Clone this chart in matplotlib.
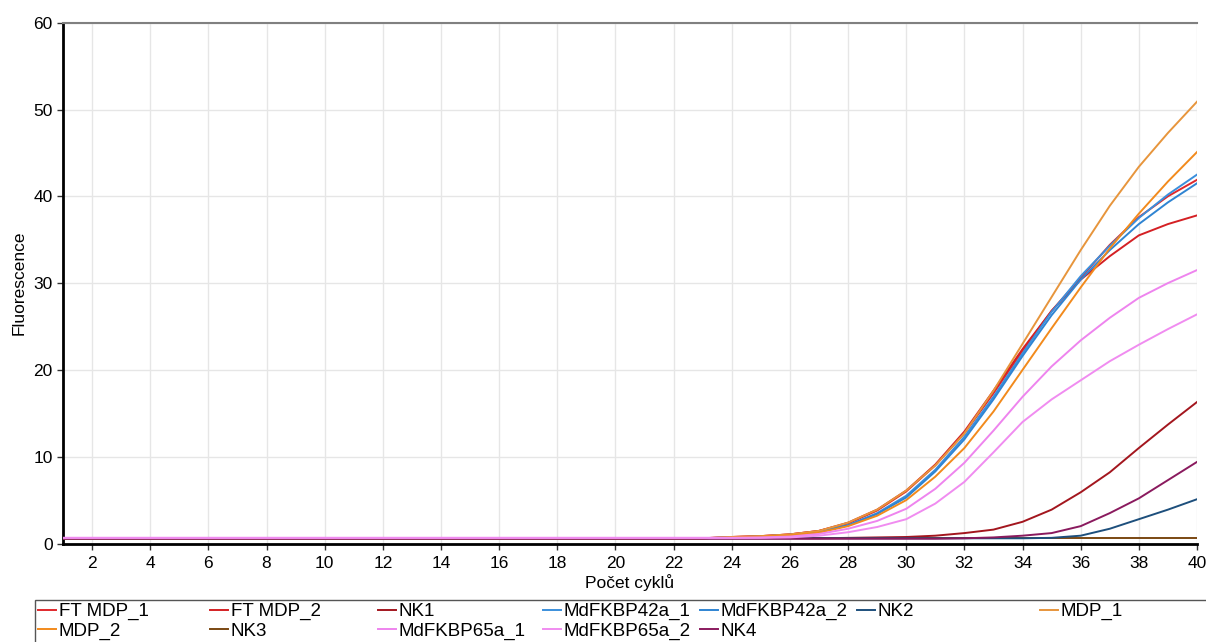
import matplotlib
matplotlib.use("Agg")
import matplotlib.pyplot as plt
from matplotlib.patches import Rectangle

cycles = list(range(1, 41))

# fluorescence per cycle (1..40)
ft_mdp_1 = [0.6, 0.6, 0.6, 0.6, 0.6, 0.6, 0.6, 0.6, 0.6, 0.6,
            0.6, 0.6, 0.6, 0.6, 0.6, 0.6, 0.6, 0.6, 0.6, 0.6,
            0.6, 0.6, 0.6, 0.75, 0.85, 1.05, 1.45, 2.3, 3.8, 6.0,
            9.0, 12.7, 17.3, 22.2, 26.8, 30.6, 34.4, 37.6, 40.0, 41.9]
ft_mdp_2 = [0.6, 0.6, 0.6, 0.6, 0.6, 0.6, 0.6, 0.6, 0.6, 0.6,
            0.6, 0.6, 0.6, 0.6, 0.6, 0.6, 0.6, 0.6, 0.6, 0.6,
            0.6, 0.6, 0.6, 0.75, 0.85, 1.05, 1.45, 2.4, 3.9, 6.1,
            9.1, 12.9, 17.6, 22.4, 26.8, 30.4, 33.1, 35.5, 36.8, 37.8]
nk1 = [0.6, 0.6, 0.6, 0.6, 0.6, 0.6, 0.6, 0.6, 0.6, 0.6,
       0.6, 0.6, 0.6, 0.6, 0.6, 0.6, 0.6, 0.6, 0.6, 0.6,
       0.6, 0.6, 0.6, 0.6, 0.6, 0.6, 0.6, 0.65, 0.7, 0.75,
       0.9, 1.2, 1.6, 2.5, 3.9, 5.9, 8.2, 11.0, 13.7, 16.3]
mdfkbp42a_1 = [0.6, 0.6, 0.6, 0.6, 0.6, 0.6, 0.6, 0.6, 0.6, 0.6,
               0.6, 0.6, 0.6, 0.6, 0.6, 0.6, 0.6, 0.6, 0.6, 0.6,
               0.6, 0.6, 0.6, 0.7, 0.8, 1.0, 1.35, 2.1, 3.5, 5.5,
               8.5, 12.3, 16.9, 21.9, 26.7, 30.8, 34.3, 37.5, 40.2, 42.5]
mdfkbp42a_2 = [0.6, 0.6, 0.6, 0.6, 0.6, 0.6, 0.6, 0.6, 0.6, 0.6,
               0.6, 0.6, 0.6, 0.6, 0.6, 0.6, 0.6, 0.6, 0.6, 0.6,
               0.6, 0.6, 0.6, 0.7, 0.8, 1.0, 1.35, 2.1, 3.4, 5.3,
               8.3, 12.0, 16.6, 21.6, 26.3, 30.4, 33.8, 36.8, 39.3, 41.5]
nk2 = [0.6, 0.6, 0.6, 0.6, 0.6, 0.6, 0.6, 0.6, 0.6, 0.6,
       0.6, 0.6, 0.6, 0.6, 0.6, 0.6, 0.6, 0.6, 0.6, 0.6,
       0.6, 0.6, 0.6, 0.6, 0.6, 0.6, 0.6, 0.6, 0.6, 0.6,
       0.6, 0.6, 0.6, 0.6, 0.65, 0.9, 1.7, 2.8, 3.9, 5.1]
mdp_1 = [0.6, 0.6, 0.6, 0.6, 0.6, 0.6, 0.6, 0.6, 0.6, 0.6,
         0.6, 0.6, 0.6, 0.6, 0.6, 0.6, 0.6, 0.6, 0.6, 0.6,
         0.6, 0.6, 0.6, 0.75, 0.85, 1.05, 1.45, 2.4, 3.9, 6.1,
         9.0, 12.7, 17.6, 23.0, 28.4, 33.8, 38.9, 43.4, 47.3, 50.9]
mdp_2 = [0.6, 0.6, 0.6, 0.6, 0.6, 0.6, 0.6, 0.6, 0.6, 0.6,
         0.6, 0.6, 0.6, 0.6, 0.6, 0.6, 0.6, 0.6, 0.6, 0.6,
         0.6, 0.6, 0.6, 0.7, 0.8, 0.95, 1.25, 2.0, 3.2, 5.0,
         7.7, 11.0, 15.2, 20.0, 24.8, 29.5, 34.0, 38.0, 41.7, 45.1]
nk3 = [0.6, 0.6, 0.6, 0.6, 0.6, 0.6, 0.6, 0.6, 0.6, 0.6,
       0.6, 0.6, 0.6, 0.6, 0.6, 0.6, 0.6, 0.6, 0.6, 0.6,
       0.6, 0.6, 0.6, 0.6, 0.6, 0.6, 0.6, 0.6, 0.6, 0.6,
       0.6, 0.6, 0.6, 0.6, 0.6, 0.6, 0.6, 0.6, 0.6, 0.6]
mdfkbp65a_1 = [0.65, 0.65, 0.65, 0.65, 0.65, 0.65, 0.65, 0.65, 0.65, 0.65,
               0.65, 0.65, 0.65, 0.65, 0.65, 0.65, 0.65, 0.65, 0.65, 0.65,
               0.65, 0.65, 0.65, 0.65, 0.7, 0.8, 1.1, 1.7, 2.6, 4.0,
               6.3, 9.3, 13.0, 16.9, 20.4, 23.4, 26.0, 28.3, 30.0, 31.5]
mdfkbp65a_2 = [0.65, 0.65, 0.65, 0.65, 0.65, 0.65, 0.65, 0.65, 0.65, 0.65,
               0.65, 0.65, 0.65, 0.65, 0.65, 0.65, 0.65, 0.65, 0.65, 0.65,
               0.65, 0.65, 0.65, 0.65, 0.65, 0.7, 0.9, 1.3, 1.9, 2.8,
               4.6, 7.1, 10.5, 14.0, 16.6, 18.8, 21.0, 22.9, 24.7, 26.4]
nk4 = [0.55, 0.55, 0.55, 0.55, 0.55, 0.55, 0.55, 0.55, 0.55, 0.55,
       0.55, 0.55, 0.55, 0.55, 0.55, 0.55, 0.55, 0.55, 0.55, 0.55,
       0.55, 0.55, 0.55, 0.55, 0.55, 0.55, 0.55, 0.55, 0.55, 0.55,
       0.55, 0.6, 0.7, 0.9, 1.2, 2.0, 3.5, 5.2, 7.3, 9.4]

series = [
    ("FT MDP_1", ft_mdp_1, "#e0282c", 3),
    ("FT MDP_2", ft_mdp_2, "#d42024", 3),
    ("NK1", nk1, "#a3161e", 3),
    ("MdFKBP42a_1", mdfkbp42a_1, "#3b8fdc", 3),
    ("MdFKBP42a_2", mdfkbp42a_2, "#2f84d2", 3),
    ("NK2", nk2, "#1d4f7c", 3),
    ("MDP_1", mdp_1, "#e7953c", 3),
    ("MDP_2", mdp_2, "#f28a1c", 3),
    ("NK3", nk3, "#7a4712", 2),
    ("MdFKBP65a_1", mdfkbp65a_1, "#ee84ee", 4),
    ("MdFKBP65a_2", mdfkbp65a_2, "#f08cf0", 4),
    ("NK4", nk4, "#8a1a5e", 3.5),
]

plt.rcParams["font.family"] = ["Liberation Sans", "DejaVu Sans"]

fig = plt.figure(figsize=(12.06, 6.42), dpi=100)
ax = fig.add_axes([63 / 1206, 1 - 543.5 / 642, (1197 - 63) / 1206, (543.5 - 22.7) / 642])

lines = {}
for name, vals, col, z in series:
    ln, = ax.plot(cycles, vals, color=col, lw=1.4, zorder=z, label=name)
    lines[name] = ln

ax.set_xlim(1, 40)
ax.set_ylim(0, 60)
ax.set_xticks(range(2, 41, 2))
ax.set_yticks(range(0, 61, 10))
ax.grid(True, color="#e6e6e6", lw=1)
ax.set_axisbelow(True)
ax.tick_params(labelsize=12.5, length=4, width=1, color="#333333")
ax.tick_params(axis="x", pad=5)
ax.spines["left"].set_linewidth(2)
ax.spines["bottom"].set_linewidth(2)
ax.spines["left"].set_color("black")
ax.spines["bottom"].set_color("black")
ax.spines["top"].set_color("#808080")
ax.spines["top"].set_linewidth(1.5)
ax.spines["right"].set_visible(False)
ax.set_xlabel("Počet cyklů", fontsize=12.5, labelpad=2)
ax.set_ylabel("Fluorescence", fontsize=12.5, labelpad=5)

# legend laid out as a 7-column grid under the plot
columns = [
    (38, ["FT MDP_1", "MDP_2"]),
    (210, ["FT MDP_2", "NK3"]),
    (378, ["NK1", "MdFKBP65a_1"]),
    (543, ["MdFKBP42a_1", "MdFKBP65a_2"]),
    (700, ["MdFKBP42a_2", "NK4"]),
    (857, ["NK2"]),
    (1040, ["MDP_1"]),
]
for x0, names in columns:
    fig.legend([lines[n] for n in names], names, loc="upper left",
               bbox_to_anchor=(x0 / 1206, 1 - 603 / 642), frameon=False,
               handlelength=0.95, handletextpad=0.15, labelspacing=0.12,
               borderpad=0, borderaxespad=0, fontsize=13.5)

fig.patches.append(Rectangle((35 / 1206, -0.05), 1.1, 0.05 + 1 - 600 / 642,
                             transform=fig.transFigure, fill=False,
                             edgecolor="#555555", lw=1))

fig.savefig("out.png", dpi=100)
